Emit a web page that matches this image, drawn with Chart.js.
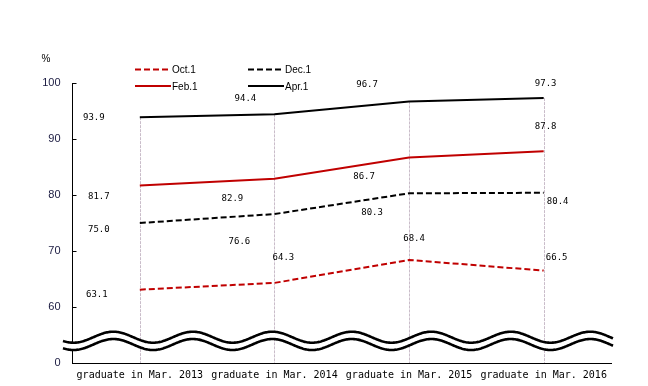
<!DOCTYPE html>
<html>
<head>
<meta charset="utf-8">
<script src="https://cdn.jsdelivr.net/npm/chart.js@4.4.1/dist/chart.umd.min.js"></script>
<style>
  html, body { margin: 0; padding: 0; background: #fff; }
</style>
</head>
<body>
<canvas id="grafico" width="648" height="386"></canvas>
<script>
// dados do gráfico
const categorias = ["graduate in Mar. 2013", "graduate in Mar. 2014", "graduate in Mar. 2015", "graduate in Mar. 2016"]
const rotulos = ["Oct.1", "Dec.1", "Feb.1", "Apr.1"]
const oct1 = [63.1, 64.3, 68.4, 66.5]
const dec1 = [75.0, 76.6, 80.3, 80.4]
const feb1 = [81.7, 82.9, 86.7, 87.8]
const apr1 = [93.9, 94.4, 96.7, 97.3]
const ticksY = [50, 60, 70, 80, 90, 100]   // 50 é mostrado como "0" (eixo quebrado)

// deslocamento dos rótulos de valor (px) em relação ao ponto
const desloc = [
    [[-43, 5], [9, -25], [5, -21], [13, -13]],
    [[-41, 7], [-35, 28], [-37, 19], [14, 9]],
    [[-41, 11], [-42, 20], [-45, 19], [2, -25]],
    [[-46, 0], [-29, -16], [-42, -17], [2, -14]]
]

const VERMELHO = "#c00000"
const PRETO = "#000000"

function serie(label, data, cor, dash){
    return {
        label: label,
        data: data,
        borderColor: cor,
        backgroundColor: cor,
        borderWidth: 2,
        borderDash: dash,
        pointRadius: 0,
        tension: 0,
        fill: false
    }
}

// linhas verticais, rótulos, legenda e quebra do eixo
const extras = {
    id: "extras",
    beforeDatasetsDraw(chart){
        const ctx = chart.ctx
        const x = chart.scales.x
        const y = chart.scales.y
        ctx.save()
        ctx.strokeStyle = "#c9bcc9"
        ctx.lineWidth = 1
        ctx.setLineDash([3, 1])
        categorias.forEach((c, i) => {
            const maior = Math.max(oct1[i], dec1[i], feb1[i], apr1[i])
            const px = Math.round(x.getPixelForValue(i)) + 0.5
            ctx.beginPath()
            ctx.moveTo(px, y.getPixelForValue(maior))
            ctx.lineTo(px, chart.chartArea.bottom)
            ctx.stroke()
        })
        ctx.restore()
    },
    afterDraw(chart){
        const ctx = chart.ctx
        const area = chart.chartArea
        const y = chart.scales.y
        ctx.save()

        // ticks internos do eixo Y
        ctx.strokeStyle = "#000"
        ctx.lineWidth = 1
        ticksY.forEach(v => {
            const py = Math.round(y.getPixelForValue(v)) + 0.5
            ctx.beginPath()
            ctx.moveTo(area.left, py)
            ctx.lineTo(area.left + 4, py)
            ctx.stroke()
        })

        // rótulos de valor
        ctx.fillStyle = "#000"
        ctx.font = "9px 'DejaVu Sans Mono'"
        ctx.textAlign = "center"
        ctx.textBaseline = "middle"
        chart.data.datasets.forEach((ds, d) => {
            const meta = chart.getDatasetMeta(d)
            meta.data.forEach((p, i) => {
                ctx.fillText(ds.data[i].toFixed(1), p.x + desloc[d][i][0], p.y + desloc[d][i][1])
            })
        })

        // "%"
        ctx.font = "10px 'Liberation Sans'"
        ctx.fillText("%", 46, 59)

        // legenda
        const posX = [135, 248]
        const posY = [69.5, 86]
        ctx.textAlign = "left"
        chart.data.datasets.forEach((ds, d) => {
            const lx = posX[d % 2]
            const ly = posY[Math.floor(d / 2)]
            ctx.strokeStyle = ds.borderColor
            ctx.lineWidth = 2
            ctx.setLineDash(ds.borderDash)
            ctx.beginPath()
            ctx.moveTo(lx, ly)
            ctx.lineTo(lx + 36, ly)
            ctx.stroke()
            ctx.setLineDash([])
            ctx.fillStyle = "#000"
            ctx.fillText(ds.label, lx + 37, ly + 1)
        })

        // quebra do eixo (ondas)
        const x0 = 63, x1 = 613, periodo = 79.5, crista = 113.3, amp = 5.5
        const c1 = 337.2, c2 = 344.5
        const onda = (xx, c) => c - amp * Math.cos((xx - crista) / periodo * 2 * Math.PI)
        ctx.beginPath()
        for(let xx = x0; xx <= x1; xx++) ctx.lineTo(xx, onda(xx, c1))
        for(let xx = x1; xx >= x0; xx--) ctx.lineTo(xx, onda(xx, c2))
        ctx.closePath()
        ctx.fillStyle = "#fff"
        ctx.fill()
        ctx.strokeStyle = "#000"
        ctx.lineWidth = 2.6
        ;[c1, c2].forEach(c => {
            ctx.beginPath()
            for(let xx = x0; xx <= x1; xx++) ctx.lineTo(xx, onda(xx, c))
            ctx.stroke()
        })

        ctx.restore()
    }
}

new Chart(document.getElementById("grafico").getContext("2d"), {
    type: "line",
    data: {
        labels: categorias,
        datasets: [
            serie(rotulos[0], oct1, VERMELHO, [6, 3]),
            serie(rotulos[1], dec1, PRETO, [6, 3]),
            serie(rotulos[2], feb1, VERMELHO, []),
            serie(rotulos[3], apr1, PRETO, [])
        ]
    },
    options: {
        responsive: false,
        animation: false,
        layout: { padding: { top: 83, right: 37, left: 0, bottom: 0 } },
        plugins: {
            legend: { display: false },
            tooltip: { enabled: false }
        },
        scales: {
            x: {
                offset: true,
                grid: { display: false, drawTicks: false },
                border: { display: true, color: "#000", width: 1 },
                ticks: {
                    autoSkip: false,
                    maxRotation: 0,
                    padding: 6,
                    color: "#000",
                    font: { family: "'DejaVu Sans Mono'", size: 10 }
                },
                afterFit(s){ s.height = 23 }
            },
            y: {
                min: 50,
                max: 100,
                afterBuildTicks(s){ s.ticks = ticksY.map(v => ({ value: v })) },
                grid: { display: false, drawTicks: false },
                border: { display: true, color: "#000", width: 1 },
                ticks: {
                    padding: 12,
                    color: "#1a1a40",
                    font: { family: "'Liberation Sans'", size: 11 },
                    callback: v => v === 50 ? "0" : v
                },
                afterFit(s){ s.width = 72.5 }
            }
        }
    },
    plugins: [extras]
})
</script>
</body>
</html>
